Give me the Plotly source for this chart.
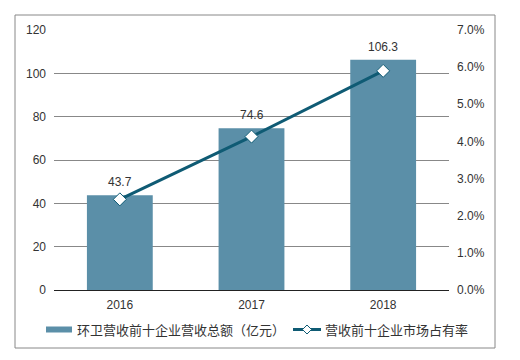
import plotly.graph_objects as go

years = ["2016", "2017", "2018"]
revenue = [43.7, 74.6, 106.3]
share = [0.0244, 0.0413, 0.0590]
bar_name = "环卫营收前十企业营收总额（亿元）"
line_name = "营收前十企业市场占有率"

OFF = 8  # default page body margin
W, H = 520 - OFF, 360 - OFF
ml, mt = 54 - OFF, 30 - OFF
mr = W - (449 - OFF)
mb = H - (290 - OFF)
pw, ph = W - ml - mr, H - mt - mb
BAR_C = "#5B8FA8"
LINE_C = "#0F5B74"


def px(x):
    return (x - OFF - ml) / pw


def py(y):
    return (H - mb - (y - OFF)) / ph


fig = go.Figure()
fig.add_trace(go.Bar(x=years, y=revenue, name=bar_name, marker_color=BAR_C,
                     marker_line_width=0, yaxis="y"))
fig.add_trace(go.Scatter(x=years, y=share, name=line_name, mode="lines+markers",
                         line=dict(color=LINE_C, width=3),
                         marker=dict(symbol="diamond", size=10, color="white",
                                     line=dict(color=LINE_C, width=1)),
                         yaxis="y2"))

for i, v in enumerate(revenue):
    fig.add_annotation(x=i, y=v, text=f"{v}", showarrow=False, yshift=13,
                       font=dict(size=12, color="#333"), xref="x", yref="y")

# outer border
fig.add_shape(type="rect", xref="paper", yref="paper",
              x0=px(15), x1=px(495), y0=py(348), y1=py(15),
              line=dict(color="#888", width=1), fillcolor="rgba(0,0,0,0)", layer="below")

# manual legend
fig.add_shape(type="rect", xref="paper", yref="paper",
              x0=px(46), x1=px(72), y0=py(332.5), y1=py(326.5),
              line=dict(width=0), fillcolor=BAR_C)
fig.add_annotation(xref="paper", yref="paper", x=px(75), y=py(329.5), text=bar_name,
                   showarrow=False, xanchor="left", yanchor="middle",
                   font=dict(family="Noto Sans CJK SC", size=13, color="#333"))
fig.add_shape(type="line", xref="paper", yref="paper",
              x0=px(293), x1=px(321), y0=py(329.5), y1=py(329.5),
              line=dict(color=LINE_C, width=3))
d = 4.5
cx, cy = 307, 329.5
fig.add_shape(type="path", xref="paper", yref="paper",
              path=f"M {px(cx-d)} {py(cy)} L {px(cx)} {py(cy-d)} L {px(cx+d)} {py(cy)} L {px(cx)} {py(cy+d)} Z",
              line=dict(color=LINE_C, width=1), fillcolor="white")
fig.add_annotation(xref="paper", yref="paper", x=px(323), y=py(329.5), text=line_name,
                   showarrow=False, xanchor="left", yanchor="middle",
                   font=dict(family="Noto Sans CJK SC", size=13, color="#333"))

fig.update_layout(
    width=W, height=H,
    margin=dict(l=ml, r=mr, t=mt, b=mb, autoexpand=False),
    paper_bgcolor="white", plot_bgcolor="white",
    font=dict(family="Liberation Sans, Arial, Noto Sans CJK SC", size=12, color="#333"),
    bargap=0.5,
    showlegend=False,
    xaxis=dict(type="category", showgrid=False, ticks="", showline=False,
               tickfont=dict(size=12), range=[-0.5, 2.5], ticklabelstandoff=6),
    yaxis=dict(range=[0, 120], dtick=20, showgrid=True, gridcolor="#888", gridwidth=1,
               zeroline=True, zerolinecolor="#222", zerolinewidth=1, ticks="",
               showline=False, tickfont=dict(size=12), automargin=False,
               ticklabelstandoff=7),
    yaxis2=dict(range=[0, 0.07], dtick=0.01, tickformat=".1%", overlaying="y",
                side="right", showgrid=False, zeroline=False, showline=False,
                ticks="", tickfont=dict(size=12), automargin=False,
                ticklabelstandoff=7),
)

fig.write_html("out.html")
